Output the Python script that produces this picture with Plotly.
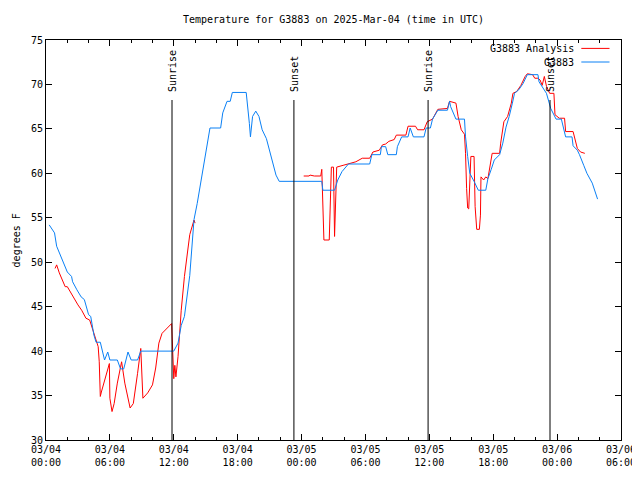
import pandas as pd
import plotly.graph_objects as go

START = pd.Timestamp("2025-03-04 00:00")

# G3883 (observed) : hours since 2025-03-04 00:00 UTC, temperature F
obs_hours = [0.3, 0.8, 1.0, 1.4, 2.0, 2.4, 2.5, 2.9, 3.3, 3.6, 4.0, 4.2, 4.5, 4.7, 5.1, 5.5, 5.8, 6.0,
             6.7, 7.0, 7.3, 7.7, 8.0, 8.6, 8.9, 12.0, 12.4, 12.7, 13.0, 13.5, 13.9, 14.2, 14.6, 14.9,
             15.2, 15.4, 16.4, 16.6, 17.0, 17.3, 17.5, 18.8, 19.1, 19.2, 19.4, 19.7, 20.0, 20.3, 20.7,
             21.0, 21.3, 21.6, 21.9, 25.9, 26.0, 27.1, 27.4, 27.8, 28.4, 30.4, 30.6, 31.4, 31.5, 31.9,
             32.1, 32.9, 33.0, 33.4, 34.0, 34.2, 34.5, 35.5, 35.7, 36.1, 36.3, 36.8, 37.7, 37.9, 38.0,
             38.5, 39.3, 39.4, 39.6, 39.8, 40.2, 40.6, 41.3, 41.5, 41.8, 42.1, 42.6, 42.9, 43.2, 43.5,
             43.8, 44.0, 44.4, 44.8, 45.2, 46.2, 46.3, 46.6, 47.0, 47.4, 47.9, 48.4, 48.8, 49.4, 49.5,
             49.9, 50.1, 50.5, 50.8, 51.3, 51.8]
obs_temp = [54.2, 53.3, 51.8, 50.6, 48.9, 48.4, 47.8, 46.9, 46.1, 45.8, 44.1, 43.9, 41.8, 41.0, 41.0,
            39.0, 39.9, 39.0, 39.0, 38.0, 38.0, 39.9, 39.0, 39.0, 40.0, 40.0, 40.9, 42.9, 43.9, 48.5,
            54.8, 56.6, 59.3, 61.5, 63.4, 65.1, 65.1, 66.8, 68.1, 68.1, 69.1, 69.1, 65.6, 64.1, 66.4,
            67.0, 66.4, 64.9, 63.9, 62.6, 61.1, 59.8, 59.1, 59.1, 58.1, 58.1, 59.25, 60.2, 61.05, 61.05,
            62.1, 62.1, 63.0, 63.0, 62.1, 62.1, 63.0, 64.1, 64.1, 65.1, 64.1, 64.1, 65.1, 65.1, 66.1,
            67.1, 67.1, 68.1, 67.5, 66.1, 66.1, 64.1, 61.9, 60.0, 59.1, 58.1, 58.1, 59.4, 60.4, 61.5,
            62.1, 63.4, 65.2, 66.4, 67.9, 69.0, 69.4, 70.1, 71.1, 71.1, 70.3, 69.7, 69.0, 67.3, 66.1,
            66.1, 64.1, 64.1, 63.1, 62.6, 62.1, 60.9, 60.0, 58.9, 57.1]

# G3883 Analysis : None marks the gap in the series
ana_hours = [0.85, 1.0, 1.25, 1.5, 1.8, 2.0, 2.35, 2.7, 3.0, 3.35, 3.75, 4.1, 4.4, 4.7, 4.9, 5.0, 5.1,
             5.2, 5.5, 5.8, 5.95, 6.0, 6.2, 6.4, 6.7, 7.1, 7.4, 7.9, 8.2, 8.6, 8.9, 9.1, 9.55, 10.0,
             10.3, 10.6, 10.9, 11.8, 11.85, 12.0, 12.1, 12.2, 12.4, 12.7, 13.0, 13.3, 13.5, 13.9, 14.0,
             None,
             24.2, 24.7, 24.8, 25.2, 25.8, 25.9, 26.1, 26.6, 26.8, 27.0, 27.1, 27.2, 27.3, 27.9, 28.3,
             29.1, 29.7, 30.4, 30.7, 31.3, 31.6, 31.9, 32.2, 32.7, 32.9, 33.8, 34.0, 34.7, 34.9, 35.5,
             35.8, 36.3, 36.8, 37.7, 37.9, 38.5, 38.7, 39.0, 39.3, 39.4, 39.5, 39.6, 39.7, 39.8, 39.9,
             40.2, 40.3, 40.45, 40.7, 40.8, 40.85, 41.1, 41.3, 41.5, 41.7, 41.85, 41.9, 42.6, 42.7,
             43.0, 43.35, 43.7, 43.85, 44.2, 44.6, 45.0, 45.2, 45.7, 45.9, 46.2, 46.4, 46.6, 46.8,
             47.0, 47.3, 47.7, 47.8, 48.2, 48.7, 48.8, 49.5, 49.7, 49.9, 50.2, 50.6]
ana_temp = [49.3, 49.7, 48.8, 48.0, 47.25, 47.25, 46.5, 45.75, 45.2, 44.6, 43.7, 43.5, 42.4, 41.25, 40.5,
            38.8, 34.9, 35.4, 36.6, 37.9, 38.6, 34.7, 33.2, 34.1, 36.4, 38.8, 36.4, 33.6, 34.1, 37.5,
            40.3, 34.7, 35.3, 36.2, 38.1, 40.9, 42.0, 43.1, 41.6, 36.9, 38.4, 37.1, 39.4, 44.6, 48.4,
            51.2, 53.1, 54.75, 54.4,
            None,
            59.7, 59.7, 59.8, 59.7, 59.7, 60.45, 52.5, 52.5, 60.7, 60.7, 52.9, 58.1, 60.7, 60.9, 61.05,
            61.3, 61.7, 61.7, 62.4, 62.6, 63.2, 63.3, 63.6, 63.8, 64.3, 64.3, 65.3, 65.3, 64.9, 64.9,
            65.8, 66.1, 67.2, 67.3, 68.1, 67.9, 66.4, 64.9, 64.4, 62.25, 58.3, 56.1, 56.0, 59.6, 61.9,
            61.9, 56.25, 53.7, 53.7, 55.3, 59.6, 59.25, 59.6, 59.4, 60.75, 61.9, 62.25, 62.25, 63.4,
            65.8, 66.4, 67.9, 69.0, 69.2, 69.9, 70.9, 71.2, 71.1, 70.7, 70.7, 70.5, 69.9, 70.9,
            69.8, 69.0, 69.0, 66.6, 66.2, 66.2, 64.7, 64.7, 63.75, 62.8, 62.4, 62.25]

sun_labels = ["Sunrise", "Sunset", "Sunrise", "Sunset"]
sun_times = ["2025-03-04 11:50", "2025-03-04 23:17", "2025-03-05 11:53", "2025-03-05 23:20"]

x_range = ["2025-03-04 00:00", "2025-03-06 06:00"]
y_range = [30, 75]

FONT = "DejaVu Sans Mono"
RED = "#ff0000"
BLUE = "#0a80f5"

# the page body adds an 8px offset; size the figure to compensate
W, H = 632, 472


def to_time(hours):
    return [None if h is None else START + pd.Timedelta(hours=h) for h in hours]


fig = go.Figure()
fig.add_trace(go.Scatter(x=to_time(ana_hours), y=ana_temp, mode="lines", name="G3883 Analysis",
                         line=dict(color=RED, width=1), connectgaps=False, showlegend=False))
fig.add_trace(go.Scatter(x=to_time(obs_hours), y=obs_temp, mode="lines", name="G3883",
                         line=dict(color=BLUE, width=1), showlegend=False))

for lab, t in zip(sun_labels, sun_times):
    fig.add_shape(type="line", xref="x", yref="paper", x0=t, x1=t, y0=0, y1=0.85,
                  line=dict(color="black", width=1))
    fig.add_annotation(x=t, xref="x", y=0.865, yref="paper", text=lab, textangle=-90,
                       showarrow=False, xanchor="center", yanchor="bottom",
                       font=dict(family=FONT, size=10, color="black"))

# legend (text on the left, line sample on the right, gnuplot style)
for i, (name, col) in enumerate([("G3883 Analysis", RED), ("G3883", BLUE)]):
    yy = 0.979 - i * 0.034
    fig.add_annotation(x=0.921, xref="paper", y=yy, yref="paper", text=name, showarrow=False,
                       xanchor="right", yanchor="middle",
                       font=dict(family=FONT, size=10, color="black"))
    fig.add_shape(type="line", xref="paper", yref="paper", x0=0.931, x1=0.980, y0=yy, y1=yy,
                  line=dict(color=col, width=1))

fig.add_annotation(x=-0.0645, xref="paper", y=0.5, yref="paper", text="degrees F", textangle=-90,
                   showarrow=False, xanchor="left", yanchor="middle",
                   font=dict(family=FONT, size=10, color="black"))

fig.update_layout(
    width=W, height=H,
    margin=dict(l=38, r=19, t=32, b=40, autoexpand=False),
    paper_bgcolor="white", plot_bgcolor="white",
    font=dict(family=FONT, size=10, color="black"),
    title=dict(text="Temperature for G3883 on 2025-Mar-04 (time in UTC)", x=0.5, xref="paper",
               xanchor="center", y=1 - 11 / H, yref="container", yanchor="middle",
               font=dict(family=FONT, size=10, color="black")),
    showlegend=False,
)
fig.update_xaxes(type="date", range=x_range, dtick=6 * 3600 * 1000, tick0="2025-03-04 00:00",
                 tickformat="%m/%d<br>%H:%M", ticks="inside", ticklen=6, tickcolor="black",
                 showline=True, linecolor="black", linewidth=1, mirror="ticks", showgrid=False,
                 zeroline=False, automargin=False,
                 minor=dict(dtick=2 * 3600 * 1000, ticks="inside", ticklen=3, tickcolor="black",
                            showgrid=False))
fig.update_yaxes(range=y_range, dtick=5, ticks="inside", ticklen=6, tickcolor="black",
                 showline=True, linecolor="black", linewidth=1, mirror="ticks", showgrid=False,
                 zeroline=False, automargin=False)

fig.write_html("out.html")
